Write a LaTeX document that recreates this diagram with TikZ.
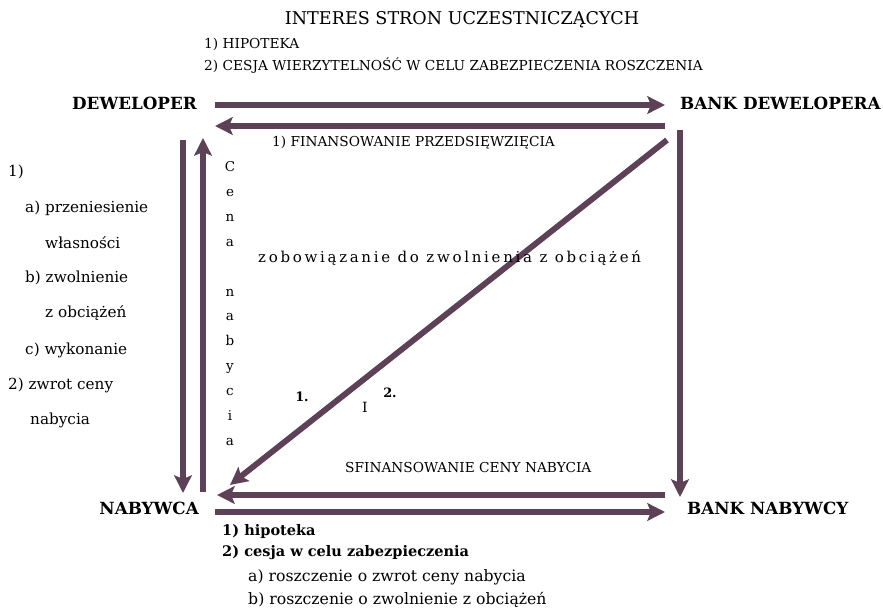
\documentclass[tikz,border=0pt]{standalone}
\usepackage{fontspec}
\setmainfont{DejaVu Serif}
\newfontfamily\spacedfont[LetterSpace=18]{DejaVu Serif}
\usetikzlibrary{arrows.meta}
\definecolor{flowcol}{HTML}{5D4157}

\begin{document}
\begin{tikzpicture}[x=0.03cm, y=-0.03cm,
    party/.style={font=\bfseries\fontsize{14.3}{16}\selectfont, inner sep=0pt},
    flow/.style={draw=flowcol, line width=5pt, -{Stealth[length=15pt, width=15pt, inset=3pt]}},
    lbl/.style={inner sep=0pt, font=\fontsize{11.7}{13}\selectfont},
    lefttxt/.style={inner sep=0pt, anchor=west, font=\fontsize{13}{15}\selectfont}]
    \useasboundingbox (0,0) rectangle (883,611);

    % strony
    \node[party, anchor=east] (dev) at (197,103) {DEWELOPER};
    \node[party, anchor=west] (bdev) at (680,103) {BANK DEWELOPERA};
    \node[party, anchor=east] (nab) at (199,508) {NABYWCA};
    \node[party, anchor=west] (bnab) at (687,508) {BANK NABYWCY};

    % punkty strzalek
    \coordinate (devR) at (215,105);
    \coordinate (bdevL) at (665,105);
    \coordinate (bdevL2) at (665,126);
    \coordinate (devR2) at (215,126);
    \coordinate (devD) at (183,140);
    \coordinate (nabU) at (183,493);
    \coordinate (nabU2) at (203,492);
    \coordinate (devD2) at (203,138);
    \coordinate (bdevD) at (680,130);
    \coordinate (bnabU) at (680,497);
    \coordinate (bdevS) at (667,140);
    \coordinate (nabE) at (230,485);
    \coordinate (bnabL) at (665,495);
    \coordinate (nabR) at (217,495);
    \coordinate (nabR2) at (215,512);
    \coordinate (bnabL2) at (665,512);

    \draw[flow] (devR) -- (bdevL);
    \draw[flow] (bdevL2) -- (devR2);
    \draw[flow] (devD) -- (nabU);
    \draw[flow] (nabU2) -- (devD2);
    \draw[flow] (bdevD) -- (bnabU);
    \draw[flow] (bdevS) -- (nabE);
    \draw[flow] (bnabL) -- (nabR);
    \draw[flow] (nabR2) -- (bnabL2);

    % opisy
    \node[font=\fontsize{15}{17}\selectfont, inner sep=0pt] (title) at (462,20) {INTERES STRON UCZESTNICZĄCYCH};
    \node[lbl, anchor=west] (hip) at (204,44) {1) HIPOTEKA};
    \node[lbl, anchor=west] (cesja) at (204,66) {2) CESJA WIERZYTELNOŚĆ W CELU ZABEZPIECZENIA ROSZCZENIA};
    \node[lbl, anchor=west] (fin) at (272,143) {1) FINANSOWANIE PRZEDSIĘWZIĘCIA};
    \node[lbl, anchor=west] (sfin) at (345,468) {SFINANSOWANIE CENY NABYCIA};
    \node[inner sep=0pt, font=\spacedfont\fontsize{12.8}{14}\selectfont, anchor=west] (zob) at (258,258) {zobowiązanie do zwolnienia z obciążeń};
    \node[inner sep=0pt, align=center, font=\fontsize{11.5}{21.3}\selectfont, anchor=north] (cena) at (230,161)
        {C\\e\\n\\a\\[21.3pt]n\\a\\b\\y\\c\\i\\a};
    \node[inner sep=0pt, font=\bfseries\fontsize{11}{13}\selectfont] (one) at (302,397) {1.};
    \node[inner sep=0pt, font=\bfseries\fontsize{11}{13}\selectfont] (two) at (390,393) {2.};
    \node[inner sep=0pt, font=\fontsize{12}{14}\selectfont] (I) at (365,407) {I};

    \node[lefttxt] (l1) at (8,172) {1)};
    \node[lefttxt] (l2) at (25,208) {a) przeniesienie};
    \node[lefttxt] (l3) at (45,243) {własności};
    \node[lefttxt] (l4) at (25,278) {b) zwolnienie};
    \node[lefttxt] (l5) at (45,313) {z obciążeń};
    \node[lefttxt] (l6) at (25,350) {c) wykonanie};
    \node[lefttxt] (l7) at (8,385) {2) zwrot ceny};
    \node[lefttxt] (l8) at (30,420) {nabycia};

    \node[lefttxt, font=\bfseries\fontsize{12.4}{14}\selectfont] (b1) at (222,531) {1) hipoteka};
    \node[lefttxt, font=\bfseries\fontsize{12.4}{14}\selectfont] (b2) at (222,553) {2) cesja w celu zabezpieczenia};
    \node[lefttxt, font=\fontsize{13.4}{15}\selectfont] (b3) at (248,577) {a) roszczenie o zwrot ceny nabycia};
    \node[lefttxt, font=\fontsize{13.4}{15}\selectfont] (b4) at (248,600) {b) roszczenie o zwolnienie z obciążeń};
\end{tikzpicture}
\end{document}
